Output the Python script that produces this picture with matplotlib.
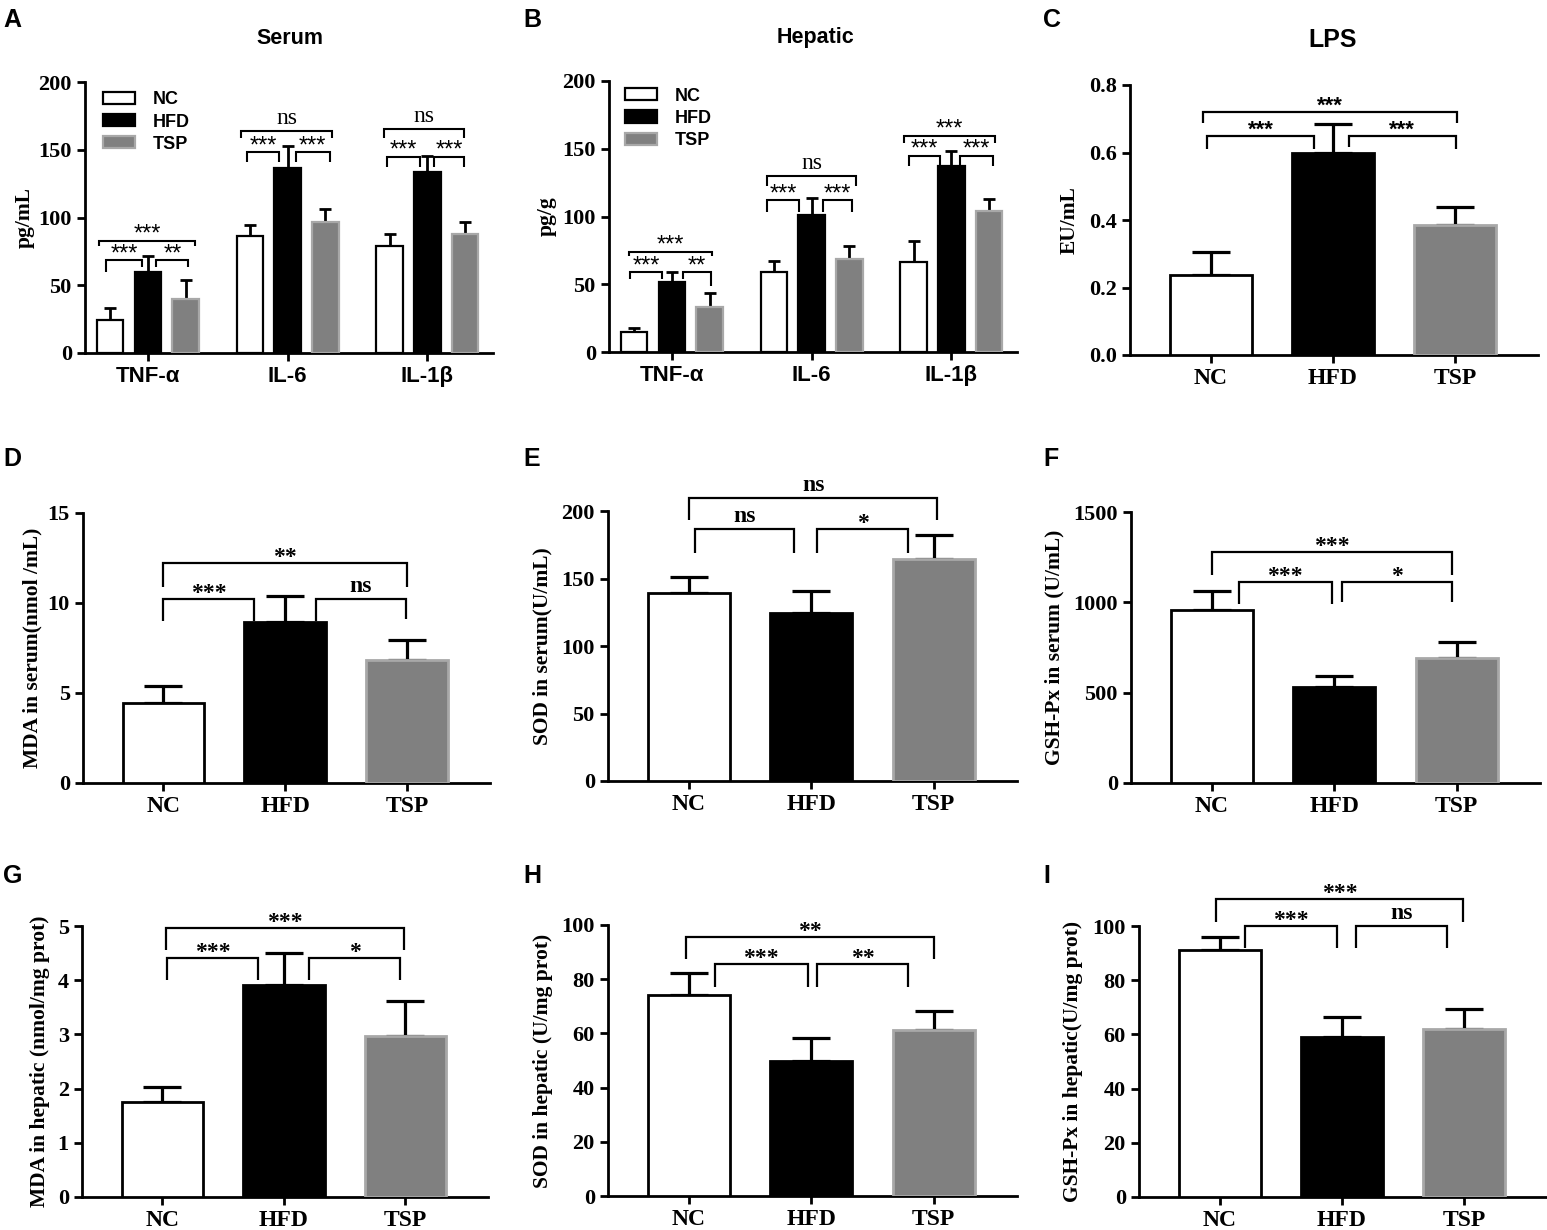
import numpy as np
import matplotlib
matplotlib.use('Agg')
import matplotlib.pyplot as plt
from matplotlib.patches import Patch

W, H = 1547, 1230
SERIF = 'Liberation Serif'
SANS = 'Liberation Sans'

plt.rcParams['font.family'] = SERIF
plt.rcParams['font.weight'] = 'bold'
plt.rcParams['axes.labelweight'] = 'bold'

treatments = ['NC', 'HFD', 'TSP']
cytokines = ['TNF-α', 'IL-6', 'IL-1β']

# A: serum cytokines (pg/mL)
serum_nc = [24.5, 86.5, 79.0]
serum_nc_sd = [8.5, 8.0, 8.5]
serum_hfd = [60.0, 136.5, 133.5]
serum_hfd_sd = [11.5, 16.5, 12.0]
serum_tsp = [40.0, 97.0, 87.5]
serum_tsp_sd = [14.0, 9.0, 9.5]

# B: hepatic cytokines (pg/g)
hep_nc = [14.7, 59.0, 66.5]
hep_nc_sd = [3.0, 8.0, 15.5]
hep_hfd = [52.0, 101.0, 137.0]
hep_hfd_sd = [7.0, 13.0, 11.5]
hep_tsp = [33.0, 68.5, 104.0]
hep_tsp_sd = [10.5, 9.5, 9.0]

# C-I: one value per group
lps = [0.237, 0.60, 0.385]
lps_sd = [0.068, 0.084, 0.055]
mda_serum = [4.45, 8.95, 6.85]
mda_serum_sd = [0.95, 1.45, 1.1]
sod_serum = [139.0, 124.5, 164.5]
sod_serum_sd = [12.0, 16.5, 17.5]
gsh_serum = [957, 531, 692]
gsh_serum_sd = [106, 61, 88]
mda_hep = [1.75, 3.91, 2.97]
mda_hep_sd = [0.28, 0.59, 0.65]
sod_hep = [74.2, 49.8, 61.3]
sod_hep_sd = [8.1, 8.5, 7.0]
gsh_hep = [91.1, 59.0, 62.0]
gsh_hep_sd = [4.9, 7.4, 7.4]

face = {'NC': 'white', 'HFD': 'black', 'TSP': '#808080'}
edge = {'NC': 'black', 'HFD': 'black', 'TSP': '#a8a8a8'}

fig = plt.figure(figsize=(W / 100, H / 100), dpi=100)


def make_axes(l, r, t, b):
    ax = fig.add_axes([l / W, 1 - b / H, (r - l) / W, (b - t) / H])
    for s in ['top', 'right']:
        ax.spines[s].set_visible(False)
    for s in ['left', 'bottom']:
        ax.spines[s].set_linewidth(2)
    ax.tick_params(direction='out', length=6, width=2, labelsize=16)
    return ax


def bracket(ax, x1, x2, y, leg1, leg2, label, font, size, weight, lw=1.6):
    ax.plot([x1, x1, x2, x2], [leg1, y, y, leg2], color='black', lw=lw,
            clip_on=False, solid_joinstyle='miter', solid_capstyle='butt')
    pad = 5 if label == 'ns' else 0
    ax.annotate(label, ((x1 + x2) / 2, y), xytext=(0, pad), textcoords='offset points',
                ha='center', va='baseline', fontfamily=font, fontsize=size,
                fontweight=weight, annotation_clip=False)


def panel_letter(x, y, s):
    fig.text(x / W, 1 - y / H, s, fontfamily=SANS, fontsize=18, fontweight='bold',
             ha='left', va='top')


def grouped_panel(box, series, ylabel, ylab_x, brackets, legend_anchor):
    ax = make_axes(*box)
    x = np.arange(len(cytokines))
    offs = [-0.27, 0, 0.27]
    handles = []
    for (name, vals, sd), o in zip(series, offs):
        ax.bar(x + o, vals, 0.19, color=face[name], edgecolor=edge[name],
               linewidth=1.6, zorder=3)
        ax.errorbar(x + o, vals, yerr=[np.zeros(len(vals)), sd], fmt='none',
                    ecolor='black', elinewidth=2, capsize=4.5, capthick=2, zorder=2)
        handles.append(Patch(facecolor=face[name], edgecolor=edge[name],
                             linewidth=1.6, label=name))
    ax.set_xlim(-0.45, 2.47)
    ax.set_ylim(0, 200)
    ax.set_yticks([0, 50, 100, 150, 200])
    ax.set_xticks(x)
    ax.set_xticklabels(cytokines, fontfamily=SANS, fontsize=16, fontweight='bold')
    ax.set_ylabel(ylabel, fontsize=15.5, va='center')
    ax.yaxis.set_label_coords(ylab_x, 0.5)
    ax.legend(handles=handles, loc='upper left', bbox_to_anchor=legend_anchor,
              frameon=False, borderaxespad=0, borderpad=0, handlelength=1.75,
              handleheight=0.65, handletextpad=1.0, labelspacing=0.28,
              prop={'family': SANS, 'weight': 'bold', 'size': 13})
    for b in brackets:
        if b[5] == 'ns':
            bracket(ax, *b, font=SERIF, size=17, weight='normal', lw=1.5)
        else:
            bracket(ax, *b, font=SANS, size=17, weight='normal', lw=1.5)
    return ax


def simple_panel(box, vals, sd, ylim, yticks, ylabel, ylab_x, brackets,
                 star_font=SERIF, star_size=17, fmt=None):
    ax = make_axes(*box)
    x = np.arange(len(treatments))
    for i, name in enumerate(treatments):
        ax.bar(x[i], vals[i], 0.67, color=face[name], edgecolor=edge[name],
               linewidth=2, zorder=3)
    ax.errorbar(x, vals, yerr=[np.zeros(len(vals)), sd], fmt='none', ecolor='black',
                elinewidth=2.3, capsize=14, capthick=2.3, zorder=2)
    ax.set_xlim(-0.66, 2.68)
    ax.set_ylim(*ylim)
    ax.set_yticks(yticks)
    if fmt:
        ax.set_yticklabels([fmt.format(v) for v in yticks])
    ax.set_xticks(x)
    ax.set_xticklabels(treatments, fontsize=17)
    ax.set_ylabel(ylabel, fontsize=15.5, va='center')
    ax.yaxis.set_label_coords(ylab_x, 0.5)
    for b in brackets:
        bracket(ax, *b, font=star_font, size=star_size, weight='bold')
    return ax


# A
grouped_panel((85, 493, 82, 353),
              [('NC', serum_nc, serum_nc_sd), ('HFD', serum_hfd, serum_hfd_sd),
               ('TSP', serum_tsp, serum_tsp_sd)],
              'pg/mL', -0.147,
              [(-0.30, -0.04, 68.6, 60, 63.5, '***'), (0.06, 0.29, 68.6, 63.5, 63.5, '**'),
               (-0.35, 0.34, 83, 79, 79, '***'),
               (0.71, 0.94, 148, 141, 141, '***'), (1.06, 1.30, 148, 141, 141, '***'),
               (0.67, 1.32, 164, 159, 159, 'ns'),
               (1.71, 1.95, 145, 137, 137, '***'), (2.05, 2.26, 145, 137, 137, '***'),
               (1.69, 2.26, 165, 159, 159, 'ns')],
              (0.045, 0.965))
fig.text(290 / W, 1 - 38 / H, 'Serum', fontfamily=SANS, fontsize=15.5,
         fontweight='bold', ha='center', va='center')

# B
grouped_panel((609, 1017, 81, 352),
              [('NC', hep_nc, hep_nc_sd), ('HFD', hep_hfd, hep_hfd_sd),
               ('TSP', hep_tsp, hep_tsp_sd)],
              'pg/g', -0.152,
              [(-0.30, -0.07, 59, 54, 54, '***'), (0.08, 0.28, 59, 54, 49, '**'),
               (-0.31, 0.29, 74, 71, 71, '***'),
               (0.68, 0.91, 112, 103, 103, '***'), (1.08, 1.29, 112, 103, 103, '***'),
               (0.68, 1.32, 130, 122.5, 122.5, 'ns'),
               (1.70, 1.92, 145, 137.5, 137.5, '***'), (2.06, 2.30, 145, 137.5, 137.5, '***'),
               (1.66, 2.31, 159.5, 154, 154, '***')],
              (0.04, 0.975))
fig.text(815 / W, 1 - 37 / H, 'Hepatic', fontfamily=SANS, fontsize=15.5,
         fontweight='bold', ha='center', va='center')

# C
simple_panel((1130, 1538, 85, 355), lps, lps_sd, (0, 0.8), [0, 0.2, 0.4, 0.6, 0.8],
             'EU/mL', -0.147,
             [(-0.03, 0.85, 0.65, 0.61, 0.61, '***'), (1.13, 2.01, 0.65, 0.616, 0.61, '***'),
              (-0.06, 2.02, 0.72, 0.687, 0.687, '***')],
             star_font=SANS, star_size=16, fmt='{:.1f}')
fig.text(1333 / W, 1 - 40 / H, 'LPS', fontfamily=SANS, fontsize=18,
         fontweight='bold', ha='center', va='center')

# D
simple_panel((83, 490, 513, 783), mda_serum, mda_serum_sd, (0, 15), [0, 5, 10, 15],
             'MDA in serum(nmol /mL)', -0.125,
             [(0.0, 0.74, 10.2, 9.0, 9.0, '***'), (1.25, 1.99, 10.2, 9.0, 9.1, 'ns'),
              (0.0, 2.0, 12.2, 10.9, 10.9, '**')])

# E
simple_panel((608, 1017, 511, 781), sod_serum, sod_serum_sd, (0, 200), [0, 50, 100, 150, 200],
             'SOD in serum(U/mL)', -0.16,
             [(0.05, 0.86, 186.7, 169, 169, 'ns'), (1.05, 1.79, 186.7, 169, 169, '*'),
              (0.0, 2.03, 210, 193, 193, 'ns')])

# F
simple_panel((1131, 1540, 512, 783), gsh_serum, gsh_serum_sd, (0, 1500), [0, 500, 1000, 1500],
             'GSH-Px in serum (U/mL)', -0.186,
             [(0.22, 0.98, 1113, 990, 990, '***'), (1.06, 1.96, 1113, 1000, 1000, '*'),
              (0.0, 1.96, 1280, 1150, 1150, '***')])

# G
simple_panel((82, 488, 926, 1197), mda_hep, mda_hep_sd, (0, 5), [0, 1, 2, 3, 4, 5],
             'MDA in hepatic (nmol/mg prot)', -0.103,
             [(0.04, 0.79, 4.41, 4.0, 4.0, '***'), (1.21, 1.96, 4.41, 4.0, 4.0, '*'),
              (0.03, 1.99, 4.96, 4.56, 4.56, '***')])

# H
simple_panel((608, 1017, 925, 1196), sod_hep, sod_hep_sd, (0, 100), [0, 20, 40, 60, 80, 100],
             'SOD in hepatic (U/mg prot)', -0.16,
             [(0.21, 0.97, 85.6, 77, 77, '***'), (1.05, 1.79, 85.6, 77, 77, '**'),
              (-0.02, 2.0, 95.6, 87.5, 87.5, '**')])

# I
simple_panel((1139, 1547, 926, 1197), gsh_hep, gsh_hep_sd, (0, 100), [0, 20, 40, 60, 80, 100],
             'GSH-Px in hepatic(U/mg prot)', -0.162,
             [(0.21, 0.96, 100, 92, 92, '***'), (1.12, 1.86, 100, 92, 92, 'ns'),
              (-0.03, 1.99, 110, 101.5, 101.5, '***')])

for x, y, s in [(3, 8, 'A'), (523, 8, 'B'), (1043, 8, 'C'),
                (3, 447, 'D'), (523, 447, 'E'), (1043, 447, 'F'),
                (3, 864, 'G'), (523, 864, 'H'), (1043, 864, 'I')]:
    panel_letter(x, y, s)

fig.savefig('out.png', dpi=100)
